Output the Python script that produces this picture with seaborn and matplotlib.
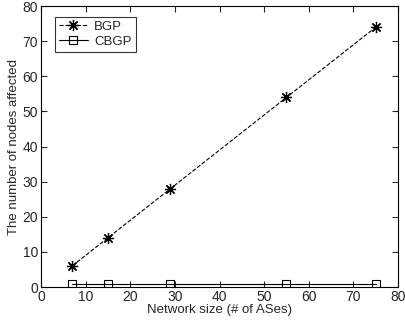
import matplotlib
matplotlib.use("Agg")
import matplotlib.pyplot as plt
import seaborn as sns
import pandas as pd

network_size = [7, 15, 29, 55, 75]
bgp_affected = [6, 14, 28, 54, 74]
cbgp_affected = [1, 1, 1, 1, 1]

sns.set_theme(style="ticks")
plt.rcParams['font.family'] = ['Liberation Sans', 'DejaVu Sans']

df = pd.DataFrame({
    'size': network_size * 2,
    'affected': bgp_affected + cbgp_affected,
    'protocol': ['BGP'] * len(network_size) + ['CBGP'] * len(network_size),
})

fig = plt.figure(figsize=(4.05, 3.2), dpi=100)
ax = fig.add_axes([0.101, 0.103, 0.882, 0.878])

sns.lineplot(data=df[df.protocol == 'BGP'], x='size', y='affected', ax=ax,
             color='black', linestyle='--', linewidth=0.8, marker=(8, 2, 0),
             markersize=8, markeredgewidth=0.9, markeredgecolor='black',
             label='BGP', dashes=(4, 4))
sns.lineplot(data=df[df.protocol == 'CBGP'], x='size', y='affected', ax=ax,
             color='black', linestyle='-', linewidth=0.8, marker='s',
             markersize=6, markerfacecolor='none', markeredgewidth=0.8,
             markeredgecolor='black', label='CBGP')

ax.set_xlim(0, 80)
ax.set_ylim(0, 80)
ax.set_xticks(range(0, 81, 10))
ax.set_yticks(range(0, 81, 10))
ax.tick_params(direction='in', top=True, right=True, labelsize=10,
               length=4, width=0.8, pad=2)
for s in ax.spines.values():
    s.set_linewidth(0.8)
    s.set_color('black')
ax.set_xlabel('Network size (# of ASes)', fontsize=9.5, labelpad=0)
ax.set_ylabel('The number of nodes affected', fontsize=9.5, labelpad=2)

leg = ax.legend(loc='upper left', fontsize=9.5, frameon=True, fancybox=False,
                edgecolor='black', borderpad=0.3, handlelength=2.2,
                handletextpad=0.5, labelspacing=0.2,
                bbox_to_anchor=(0.02, 0.985))
leg.get_frame().set_linewidth(0.8)

fig.savefig('out.png', dpi=100)
